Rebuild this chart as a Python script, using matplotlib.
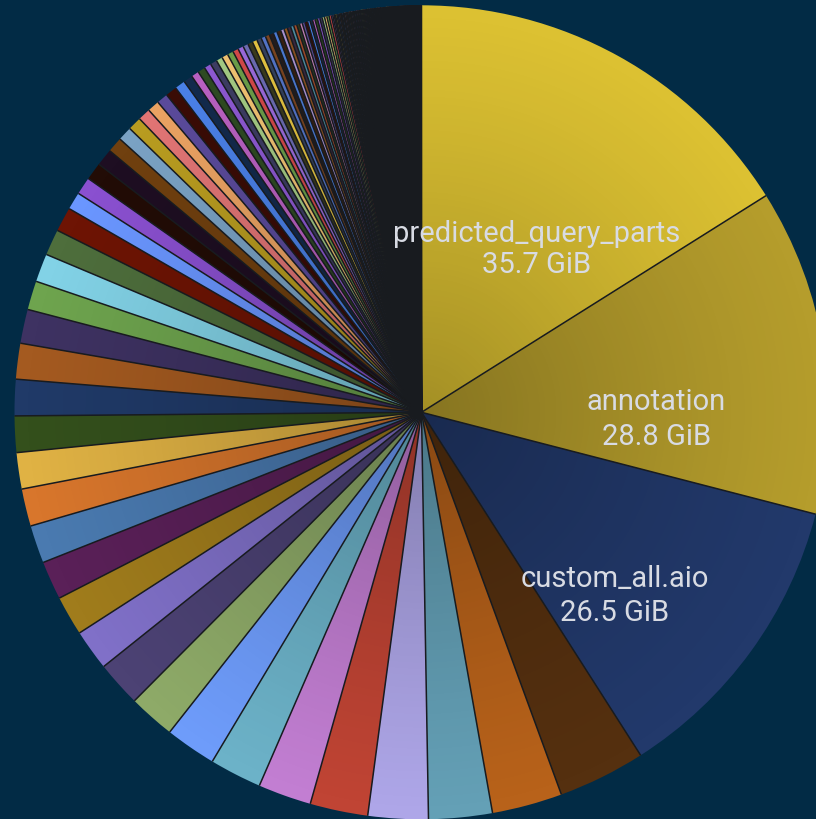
import numpy as np
import matplotlib
matplotlib.use("Agg")
import matplotlib.pyplot as plt
from matplotlib.collections import LineCollection

# disk usage per table (GiB), biggest first, clockwise from 12 o'clock
names = ["predicted_query_parts", "annotation", "custom_all.aio"]
big_values = [35.7, 28.8, 26.5]
big_colors = ["#dcc132", "#b59d2c", "#22396b"]

mid_values = [7.7, 6.2, 5.6, 5.3, 5.1, 4.7, 4.6, 4.5, 4.1, 4.0,
              3.6, 3.5, 3.4, 3.35, 3.3, 3.2, 3.2, 3.2, 3.15, 3.0,
              2.55, 2.5, 2.3, 2.15, 1.55, 1.55, 1.55, 1.5, 1.35, 1.25,
              1.2, 1.1, 1.05]
mid_colors = ["#55300f", "#b8621a", "#64a0b6", "#aea6e8", "#c04434",
              "#c27ed2", "#6cb2c8", "#6e9cfa", "#8eaa68", "#4c4274",
              "#8070c8", "#a07c1c", "#5a2058", "#4a7ab0", "#d8762c",
              "#e0b244", "#34501c", "#203a68", "#a45a20", "#3e3262",
              "#6ea44e", "#82d2e6", "#4e6e3c", "#6e1404", "#6a96ff",
              "#8a50d0", "#220c06", "#1e0e22", "#70400f", "#7aa2c4",
              "#b89c20", "#e07474", "#eaa262"]

# long tail of small tables
tail_values = [0.99, 0.99, 0.93, 0.80,
               0.68, 0.65, 0.62, 0.59, 0.56, 0.55, 0.53, 0.50, 0.49, 0.46,
               0.43, 0.43, 0.40, 0.40, 0.37, 0.37, 0.34, 0.34, 0.31, 0.31,
               0.30, 0.28, 0.28, 0.25, 0.25,
               0.24, 0.235, 0.23, 0.225, 0.22, 0.22, 0.215, 0.21, 0.21, 0.205, 0.2, 0.2,
               0.125, 0.122, 0.12, 0.118, 0.116, 0.114, 0.112, 0.11, 0.108, 0.106,
               0.104, 0.102, 0.1, 0.099, 0.098, 0.097, 0.096, 0.095, 0.094, 0.093,
               0.092, 0.091, 0.09, 0.089, 0.088, 0.087, 0.086, 0.085, 0.084, 0.083,
               0.082, 0.081, 0.08, 0.079, 0.078, 0.078, 0.077, 0.077, 0.076, 0.076,
               0.075, 0.075, 0.074, 0.074, 0.073, 0.073, 0.072, 0.072, 0.071, 0.071,
               0.07, 0.07, 0.069, 0.069, 0.068,
               0.05, 0.049, 0.049, 0.048, 0.048, 0.047, 0.047, 0.046, 0.046, 0.045,
               0.045, 0.044, 0.044, 0.043, 0.043, 0.042, 0.042, 0.041, 0.041, 0.04,
               0.04, 0.04, 0.039, 0.039, 0.039, 0.038, 0.038, 0.038, 0.037, 0.037,
               0.037, 0.036, 0.036, 0.036, 0.035, 0.035, 0.035, 0.034, 0.034, 0.034,
               0.033, 0.033, 0.033, 0.033, 0.032, 0.032, 0.032, 0.032, 0.031, 0.031,
               0.031, 0.031, 0.03, 0.03, 0.03, 0.03, 0.03, 0.029, 0.029, 0.029,
               0.029, 0.029, 0.028, 0.028, 0.028, 0.028, 0.028, 0.027, 0.027, 0.027,
               0.027, 0.027, 0.027, 0.026, 0.026, 0.026, 0.026, 0.026, 0.026, 0.025,
               0.025, 0.025, 0.025, 0.025, 0.025, 0.024, 0.024, 0.024, 0.024, 0.024]
tail_palette = ["#5a4a9a", "#3a0c06", "#4a80e6", "#132a4c", "#b860c0",
                "#2e4a22", "#8c58d0", "#3c3c62", "#a2c882", "#eec070",
                "#6a9c48", "#d04848", "#9868d8", "#6a6ab0", "#3a3a1c",
                "#e0c040", "#34405c", "#5272c4", "#7a4420", "#241c1c",
                "#4a78d0", "#3a2010", "#a890d0", "#8a5020", "#3a2840",
                "#4a8aa0", "#a04a28", "#2a3a20", "#c080b0"]

# label anchor points (pie radius = 1)
label_x = [0.283, 0.577, 0.475]
name_y = [0.420, 0.007, -0.427]
value_y = [0.344, -0.079, -0.510]
value_text = ["35.7 GiB", "28.8 GiB", "26.5 GiB"]

BG = "#022b45"
EDGE = "#181b1f"
TXT = "#d8dbe3"

values = big_values + mid_values + tail_values
colors = big_colors + mid_colors + [tail_palette[i % len(tail_palette)] for i in range(len(tail_values))]

W, H = 816, 820
cx, cy, R = 421.5, 413.3, 407.0

fig = plt.figure(figsize=(W / 100, H / 100), dpi=100, facecolor=BG)
ax = fig.add_axes([0, 0, 1, 1])

wedges, _ = ax.pie(values, colors=colors, startangle=90, counterclock=False,
                   radius=1, center=(0, 0), wedgeprops=dict(linewidth=0, antialiased=True))

# darker toward the centre, like the gradient mode of the original
n = 600
g = np.linspace(-1, 1, n)
xx, yy = np.meshgrid(g, g)
rr = np.sqrt(xx ** 2 + yy ** 2)
shade = np.zeros((n, n, 4))
shade[..., 3] = np.where(rr <= 1, 0.26 * np.clip(1 - rr, 0, 1) ** 1.2, 0)
ax.imshow(shade, extent=(-1, 1, -1, 1), origin="lower", zorder=2, interpolation="bilinear")

# slice separators
segs = []
for w in wedges:
    t = np.deg2rad(w.theta1)
    segs.append([(0, 0), (np.cos(t), np.sin(t))])
ax.add_collection(LineCollection(segs, colors=EDGE, linewidths=1.1, zorder=3,
                                 capstyle="butt"))

for i in range(len(names)):
    ax.text(label_x[i], name_y[i], names[i], ha="center", va="baseline",
            fontsize=21, color=TXT, family="Roboto", zorder=5)
    ax.text(label_x[i], value_y[i], value_text[i], ha="center", va="baseline",
            fontsize=21, color=TXT, family="Roboto", zorder=5)

ax.set_aspect("auto")
ax.set_xlim(-cx / R, (W - cx) / R)
ax.set_ylim(-(H - cy) / R, cy / R)
ax.axis("off")

fig.savefig("out.png", dpi=100, facecolor=BG)
